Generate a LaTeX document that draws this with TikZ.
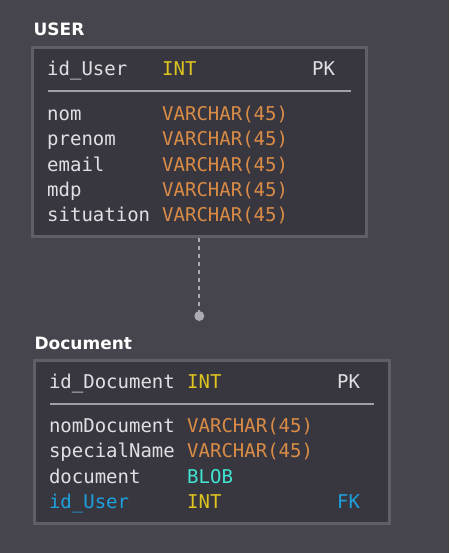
\documentclass[tikz,border=0pt]{standalone}
\usepackage{fontspec}
\setmainfont{DejaVu Sans}
\setmonofont{DejaVu Sans Mono}
\usetikzlibrary{positioning}
\definecolor{bgcol}{RGB}{70,69,77}
\definecolor{boxcol}{RGB}{56,55,64}
\definecolor{bordercol}{RGB}{96,95,104}
\definecolor{sepcol}{RGB}{160,160,168}
\definecolor{namecol}{RGB}{224,224,228}
\definecolor{intcol}{RGB}{222,196,30}
\definecolor{varcol}{RGB}{218,140,70}
\definecolor{blobcol}{RGB}{64,228,210}
\definecolor{fkcol}{RGB}{30,160,220}
\definecolor{relcol}{RGB}{170,170,178}
\tikzset{
  tbl/.style={draw=bordercol,line width=3pt,fill=boxcol,inner sep=0pt},
  tbltitle/.style={anchor=base west,inner sep=0pt,text=white,font=\fontsize{17}{17}\selectfont\bfseries},
  field/.style={anchor=base west,inner sep=0pt,text=namecol,font=\fontsize{19}{19}\selectfont\ttfamily},
  sepline/.style={draw=sepcol,line width=2pt},
  relline/.style={draw=relcol,line width=2pt,dash pattern=on 4pt off 4pt},
  enddot/.style={circle,fill=relcol,inner sep=0pt,minimum size=10pt}
}
\begin{document}
\begin{tikzpicture}[x=1pt,y=-1pt]
\fill[bgcol] (0,0) rectangle (449,553);
\useasboundingbox (0,0) rectangle (449,553);

\node[tbltitle] (usertitle) at (33.4,35.7) {USER};
\node[tbl,minimum width=333.7pt,minimum height=189pt] (user) at (199.3,142) {};
\node[field] (uid) at (47,76) {id\_User};
\node[field,text=intcol] (uidtype) at (162,76) {INT};
\node[field] (upk) at (312,76) {PK};
\draw[sepline] (48,90.7) -- (350.5,90.7);
\node[field] (unom) at (47,120.5) {nom};
\node[field,text=varcol] (unomtype) at (162,120.5) {VARCHAR(45)};
\node[field] (uprenom) at (47,145.8) {prenom};
\node[field,text=varcol] (uprenomtype) at (162,145.8) {VARCHAR(45)};
\node[field] (uemail) at (47,171.1) {email};
\node[field,text=varcol] (uemailtype) at (162,171.1) {VARCHAR(45)};
\node[field] (umdp) at (47,196.4) {mdp};
\node[field,text=varcol] (umdptype) at (162,196.4) {VARCHAR(45)};
\node[field] (usit) at (47,221.7) {situation};
\node[field,text=varcol] (usittype) at (162,221.7) {VARCHAR(45)};

\node[tbltitle] (doctitle) at (34.4,349) {Document};
\node[tbl,minimum width=355pt,minimum height=163pt] (doc) at (212,442) {};
\node[field] (did) at (48.8,388.3) {id\_Document};
\node[field,text=intcol] (didtype) at (187,388.3) {INT};
\node[field] (dpk) at (337,388.3) {PK};
\draw[sepline] (50,403.7) -- (374.3,403.7);
\node[field] (dnom) at (48.8,432.3) {nomDocument};
\node[field,text=varcol] (dnomtype) at (187,432.3) {VARCHAR(45)};
\node[field] (dspec) at (48.8,457.8) {specialName};
\node[field,text=varcol] (dspectype) at (187,457.8) {VARCHAR(45)};
\node[field] (ddoc) at (48.8,483.3) {document};
\node[field,text=blobcol] (ddoctype) at (187,483.3) {BLOB};
\node[field,text=fkcol] (duser) at (48.8,508.8) {id\_User};
\node[field,text=intcol] (dusertype) at (187,508.8) {INT};
\node[field,text=fkcol] (dfk) at (337,508.8) {FK};

\node[enddot] (dot) at (199.3,316) {};
\draw[relline] (user.south) -- (dot);

\end{tikzpicture}
\end{document}
